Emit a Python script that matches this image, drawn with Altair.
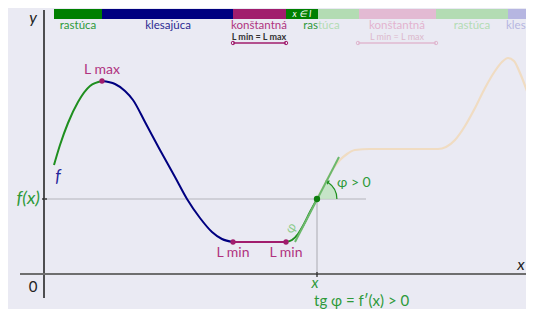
import altair as alt
import pandas as pd
import numpy as np

# ---- data (x to the right, y up; origin where the axes cross) ----
rise1_x = [10, 16, 24, 34, 46, 58]
rise1_y = [109, 129, 151, 172, 188, 193]
fall_x = [58, 71, 81, 89, 101, 116, 131, 143, 156, 168, 178, 189]
fall_y = [193, 190, 183, 174, 152, 124, 97, 75, 56, 42, 35, 32]
const_x = [189, 242]
const_y = [32, 32]
rise2_x = [242, 248, 254, 260, 266, 273]
rise2_y = [32, 34, 40, 50, 62, 75]
faded_x = [273, 281, 289, 296, 303, 311, 326, 356, 394, 402, 411, 421, 431, 441, 451, 458, 464, 470, 476, 483]
faded_y = [75, 90, 105, 114, 120, 124, 125, 125, 125, 127, 134, 148, 166, 186, 203, 212, 216, 213, 201, 183]
tangent_x = [251, 295]
tangent_y = [32, 117]
point_x0, point_y0 = 273, 75          # x, f(x)
lmax = (58, 193)
lmins_x = [189, 242]
lmins_y = [32, 32]

bar_edges = [10, 58, 189, 242, 274, 315, 392, 464, 484]
bar_colors = ["#008000", "#000080", "#a11d6d", "#008000", "#b3dcb3", "#e3bad3", "#b3dcb3", "#b6b6e1"]
bar_y0, bar_y1 = 255, 265

BG = "#eaeaf3"
GREEN = "#1f8f1f"
NAVY = "#000080"
MAG = "#a11d6d"
FONT = "Lato"

W, H = 518, 301
xs = alt.Scale(domain=[-36, -36 + W], nice=False, zero=False)
ys = alt.Scale(domain=[266 - H, 266], nice=False, zero=False)


def X(f="x"):
    return alt.X(f + ":Q", scale=xs, axis=None)


def Y(f="y"):
    return alt.Y(f + ":Q", scale=ys, axis=None)


def line(xv, yv, color, width=2, interp="monotone", opacity=1):
    df = pd.DataFrame({"x": xv, "y": yv, "o": range(len(xv))})
    return alt.Chart(df).mark_line(color=color, strokeWidth=width, interpolate=interp,
                                   opacity=opacity).encode(x=X(), y=Y(), order="o:Q")


def seg(x1, y1, x2, y2, color, width=1):
    return line([x1, x2], [y1, y2], color, width, interp="linear")


def text(x, y, t, color, size=12, align="center", style="normal", weight="normal", angle=0, font=FONT):
    df = pd.DataFrame({"x": [x], "y": [y], "t": [t]})
    kw = dict(align=align, baseline="middle", fontSize=size, color=color, font=font,
              fontStyle=style, fontWeight=weight)
    if angle:
        kw["angle"] = angle
    return alt.Chart(df).mark_text(**kw).encode(x=X(), y=Y(), text="t:N")


def pts(xv, yv, color, size=25, filled=True):
    df = pd.DataFrame({"x": xv, "y": yv})
    return alt.Chart(df).mark_point(filled=filled, color=color, size=size, opacity=1,
                                    strokeWidth=1).encode(x=X(), y=Y())


layers = []
# axes
layers.append(seg(0, -24, 0, 264, "#1a1a1a", 1.5))
layers.append(seg(-24, 0, 490, 0, "#6e6e6e", 2.2))
# guides at x and f(x)
layers.append(seg(0, point_y0, 322, point_y0, "#b4b4bc", 1.2))
layers.append(seg(point_x0, 0, point_x0, point_y0, "#b4b4bc", 1.2))
layers.append(seg(point_x0, -3, point_x0, 2, "#1a1a1a", 1.2))
layers.append(seg(-2, point_y0, 3, point_y0, "#1a1a1a", 1.2))

# top bar
bar_df = pd.DataFrame({"x": bar_edges[:-1], "x2": bar_edges[1:], "i": list(range(len(bar_colors)))})
bar_df["y"] = bar_y0
bar_df["y2"] = bar_y1
layers.append(alt.Chart(bar_df).mark_rect().encode(
    x=X(), x2="x2:Q", y=Y(), y2="y2:Q",
    color=alt.Color("i:O", scale=alt.Scale(domain=list(range(len(bar_colors))), range=bar_colors), legend=None)))
layers.append(text(258, 260, "x ∈ I", "#ffffff", 9, style="italic"))

# bar labels
layers.append(text(34, 248, "rastúca", "#2e9a3a", 11.5))
layers.append(text(124, 248, "klesajúca", "#2b2b92", 11.5))
layers.append(text(215, 248, "konštantná", "#b0337f", 11.5))
layers.append(text(bar_edges[4], 248, "ras", "#2e9a3a", 11.5, align="right"))
layers.append(text(bar_edges[4], 248, "túca", "#b3dcb3", 11.5, align="left"))
layers.append(text(353, 248, "konštantná", "#e3b3cf", 11.5))
layers.append(text(428, 248, "rastúca", "#b3dcb3", 11.5))
layers.append(text(462, 248, "kles", "#b6b6e1", 11.5, align="left"))
layers.append(text(215, 237, "L min = L max", "#333333", 9, weight="bold"))
layers.append(text(353, 237, "L min = L max", "#dcb8cc", 9))
layers.append(seg(bar_edges[2], 231, bar_edges[3], 231, MAG, 1.5))
layers.append(pts([bar_edges[2], bar_edges[3]], [231, 231], MAG, 12, filled=False))
layers.append(seg(bar_edges[5] - 1, 231, bar_edges[6], 231, "#e0b8d0", 1.5))
layers.append(pts([bar_edges[5] - 1, bar_edges[6]], [231, 231], "#e0b8d0", 12, filled=False))

# curve
layers.append(line(faded_x, faded_y, "#f0dcc2", 2.2))
layers.append(line(rise1_x, rise1_y, GREEN, 2))
layers.append(line(fall_x, fall_y, NAVY, 2))
layers.append(line(const_x, const_y, MAG, 2, interp="linear"))
layers.append(line(rise2_x, rise2_y, GREEN, 2))

# angle wedge
ang = np.arctan2(tangent_y[1] - tangent_y[0], tangent_x[1] - tangent_x[0])
th = float(np.pi / 2 - ang)
c_df = pd.DataFrame({"x": [point_x0], "y": [point_y0]})
layers.append(alt.Chart(c_df).mark_arc(radius=20, theta=th, theta2=float(np.pi / 2),
                                       fill="#bfe3bf", opacity=0.85).encode(x=X(), y=Y()))
layers.append(alt.Chart(c_df).mark_arc(radius=20.5, radius2=19.3, theta=th + 0.12, theta2=float(np.pi / 2),
                                       fill=GREEN).encode(x=X(), y=Y()))
ah = pd.DataFrame({"x": [point_x0 + 20 * np.cos(ang - 0.08)], "y": [point_y0 + 20 * np.sin(ang - 0.08)]})
layers.append(alt.Chart(ah).mark_point(shape="triangle", filled=True, color=GREEN, size=22, opacity=1,
                                       angle=float((np.degrees(-ang) + 360) % 360)).encode(x=X(), y=Y()))
layers.append(line(tangent_x, tangent_y, "#6cb86c", 2, interp="linear"))

# points
layers.append(pts([lmax[0]], [lmax[1]], MAG, 28))
layers.append(pts(lmins_x, lmins_y, MAG, 28))
layers.append(pts([point_x0], [point_y0], "#0f7f0f", 40))

# labels
layers.append(text(lmax[0], 204, "L max", "#b0337f", 14))
layers.append(text(lmins_x[0], 21, "L min", "#b0337f", 14))
layers.append(text(lmins_x[1], 21, "L min", "#b0337f", 14))
layers.append(text(14, 97, "f", "#25259a", 17, style="italic"))
layers.append(text(-4, 75, "f(x)", "#2e9a3a", 18, align="right", style="italic"))
layers.append(text(-11, 256, "y", "#222222", 16, style="italic"))
layers.append(text(477, 9, "x", "#222222", 16, style="italic"))
layers.append(text(-11, -13, "0", "#222222", 15))
layers.append(text(271, -9, "x", "#2e9a3a", 15, style="italic"))
layers.append(text(270, -27, "tg φ = f′(x) > 0", "#2e9a3a", 15, align="left"))
layers.append(text(293, 91, "φ > 0", "#2e9a3a", 14, align="left"))
layers.append(text(247, 46, "φ", "#8ccc8c", 13, angle=300))

chart = alt.layer(*layers).properties(
    width=W, height=H, padding=0, autosize=alt.AutoSizeParams(type="none"),
    background=BG,
).configure_view(stroke=None, fill=BG)

chart.save("out.html", embed_options={"renderer": "svg", "actions": False})
